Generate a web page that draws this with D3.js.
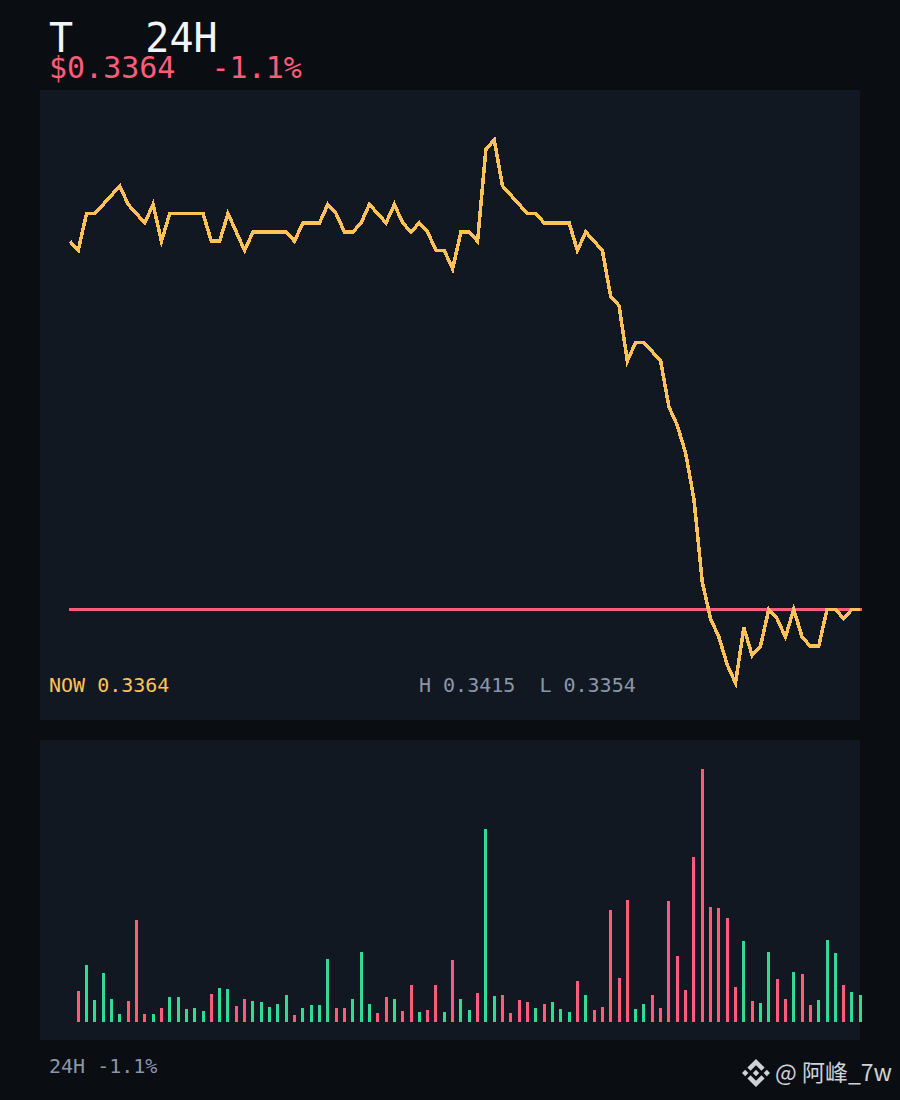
<!DOCTYPE html>
<html>
<head>
<meta charset="utf-8">
<script src="https://d3js.org/d3.v7.min.js"></script>
<style>
  html, body { margin: 0; padding: 0; background: #0a0d12; }
  svg { display: block; }
  text { font-family: "DejaVu Sans Mono", monospace; white-space: pre; }
</style>
</head>
<body>
<script>
// pris for hvert punkt (96 punkter over 24H)
const prices = [
  0.3404, 0.3403, 0.3407, 0.3407, 0.3408, 0.3409, 0.3410, 0.3408, 0.3407, 0.3406,
  0.3408, 0.3404, 0.3407, 0.3407, 0.3407, 0.3407, 0.3407, 0.3404, 0.3404, 0.3407,
  0.3405, 0.3403, 0.3405, 0.3405, 0.3405, 0.3405, 0.3405, 0.3404, 0.3406, 0.3406,
  0.3406, 0.3408, 0.3407, 0.3405, 0.3405, 0.3406, 0.3408, 0.3407, 0.3406, 0.3408,
  0.3406, 0.3405, 0.3406, 0.3405, 0.3403, 0.3403, 0.3401, 0.3405, 0.3405, 0.3404,
  0.3414, 0.3415, 0.3410, 0.3409, 0.3408, 0.3407, 0.3407, 0.3406, 0.3406, 0.3406,
  0.3406, 0.3403, 0.3405, 0.3404, 0.3403, 0.3398, 0.3397, 0.3391, 0.3393, 0.3393,
  0.3392, 0.3391, 0.3386, 0.3384, 0.3381, 0.3376, 0.3367, 0.3363, 0.3361, 0.3358,
  0.3356, 0.3362, 0.3359, 0.3360, 0.3364, 0.3363, 0.3361, 0.3364, 0.3361, 0.3360,
  0.3360, 0.3364, 0.3364, 0.3363, 0.3364, 0.3364
];

// volumen, starter ved punkt 1 (punkt 0 har ingen søjle)
const volumes = [
  31, 57, 22, 49, 23, 8, 21, 102, 8, 8,
  14, 25, 25, 13, 14, 11, 28, 34, 33, 16,
  23, 21, 20, 15, 18, 27, 7, 14, 17, 17,
  63, 14, 14, 23, 70, 18, 9, 25, 23, 11,
  37, 10, 12, 37, 10, 62, 23, 12, 29, 193,
  26, 27, 9, 22, 20, 14, 18, 20, 13, 10,
  41, 27, 12, 15, 112, 44, 122, 13, 18, 27,
  14, 121, 66, 32, 165, 253, 115, 114, 104, 35,
  81, 21, 19, 70, 43, 23, 50, 48, 17, 22,
  82, 69, 37, 30, 27
];

const nowPrice = 0.3364;
const titleLabel = "T   24H";
const priceLabel = "$0.3364  -1.1%";
const nowLabel = "NOW 0.3364";
const rangeLabel = "H 0.3415  L 0.3354";
const footerLabel = "24H -1.1%";
const watermark = "@ 阿峰_7w";

const svg = d3
  .select("body")
  .append("svg")
  .attr("width", 900)
  .attr("height", 1100);

svg.append("rect").attr("width", 900).attr("height", 1100).attr("fill", "#0a0d12");

// de to paneler
svg.append("rect").attr("x", 40).attr("y", 90).attr("width", 820).attr("height", 630).attr("fill", "#111821");
svg.append("rect").attr("x", 40).attr("y", 740).attr("width", 820).attr("height", 300).attr("fill", "#111821");

const x = d3.scaleLinear().domain([0, prices.length - 1]).range([69.9, 860.3]);
const y = d3.scaleLinear().domain([0.3356, 0.3415]).range([683, 140]);
const yVol = d3.scaleLinear().domain([0, d3.max(volumes)]).range([1022, 769]);

// linjen for nuværende pris
svg
  .append("line")
  .attr("x1", x(0) - 1)
  .attr("x2", x(prices.length - 1) + 1.7)
  .attr("y1", y(nowPrice))
  .attr("y2", y(nowPrice))
  .attr("stroke", "#ff5c7a")
  .attr("stroke-width", 3)
  .attr("shape-rendering", "crispEdges");

const line = d3
  .line()
  .x((d, i) => x(i))
  .y((d) => y(d));

svg
  .append("path")
  .datum(prices)
  .attr("d", line)
  .attr("fill", "none")
  .attr("stroke", "#ffc25a")
  .attr("stroke-width", 3.5)
  .attr("stroke-linejoin", "miter")
  .attr("shape-rendering", "crispEdges");

// søjler: grøn når prisen er steget eller uændret, ellers rød
svg
  .selectAll("rect.vol")
  .data(volumes)
  .join("rect")
  .attr("class", "vol")
  .attr("x", (d, i) => Math.floor(x(i + 1)) - 1)
  .attr("y", (d) => yVol(d))
  .attr("width", 3)
  .attr("height", (d) => yVol(0) - yVol(d))
  .attr("fill", (d, i) => (prices[i + 1] >= prices[i] ? "#34d993" : "#ff5c7a"))
  .attr("shape-rendering", "crispEdges");

// tekst
function label(txt, xPos, yPos, size, color) {
  svg
    .append("text")
    .attr("x", xPos)
    .attr("y", yPos)
    .attr("font-size", size)
    .attr("fill", color)
    .text(txt);
}

label(titleLabel, 49, 52, 40, "#f2f5f8");
label(priceLabel, 49, 78, 30, "#ff5c7a");
label(nowLabel, 49, 692, 20, "#ffc25a");
label(rangeLabel, 419, 692, 20, "#8a97aa");
label(footerLabel, 49, 1073, 20, "#8a97aa");

// vandmærke
const logo = svg
  .append("g")
  .attr("transform", "translate(742,1059) scale(0.221)")
  .attr("fill", "#cfd2d6");
[
  "M38.73 53.2l24.59-24.58 24.6 24.6 14.3-14.31L63.32 0 24.43 38.89z",
  "M0 63.31l14.3-14.31 14.31 14.31-14.31 14.3z",
  "M38.73 73.41L63.32 98l24.6-24.6 14.31 14.29-38.9 38.91-38.91-38.88-.02-.02z",
  "M98 63.31l14.3-14.31 14.31 14.3-14.31 14.32z",
  "M77.83 63.3L63.32 48.78 52.59 59.51l-1.24 1.23-2.54 2.54 14.51 14.5 14.51-14.52z"
].forEach((p) => logo.append("path").attr("d", p));

svg
  .append("text")
  .attr("x", 775)
  .attr("y", 1081)
  .attr("font-size", 23)
  .attr("fill", "#cfd2d6")
  .style("font-family", '"Noto Sans CJK SC", "Noto Sans", sans-serif')
  .text(watermark);
</script>
</body>
</html>
